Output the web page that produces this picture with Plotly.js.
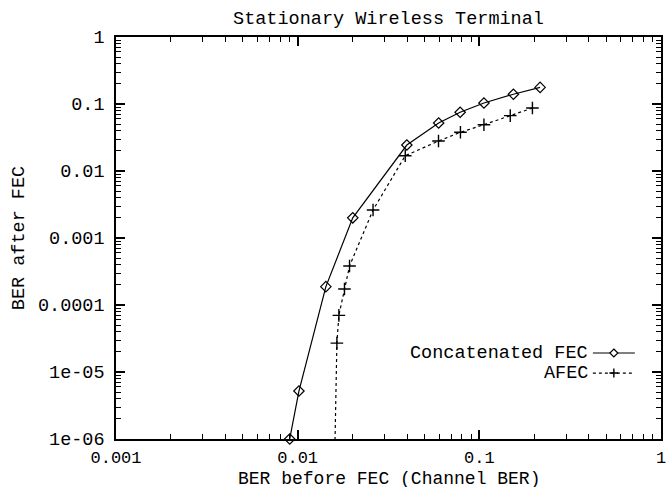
<!DOCTYPE html>
<html>
<head>
<meta charset="utf-8">
<script src="https://cdn.plot.ly/plotly-3.0.1.min.js"></script>
<style>html,body{margin:0;padding:0;background:#fff;}#chart{width:670px;height:487px;}</style>
</head>
<body>
<div id="chart"></div>
<script>
// Data
const concatX = [0.00904, 0.01016, 0.0143, 0.0201, 0.0399, 0.0597, 0.0784, 0.106, 0.154, 0.216];
const concatY = [1e-6, 5.2e-6, 1.88e-4, 2.0e-3, 0.0244, 0.052, 0.0752, 0.1035, 0.140, 0.177];
const afecX = [0.0158, 0.01644, 0.01686, 0.0181, 0.0193, 0.026, 0.0391, 0.0596, 0.0787, 0.106, 0.148, 0.196];
const afecY = [1e-7, 2.7e-5, 7.0e-5, 1.73e-4, 3.82e-4, 2.62e-3, 0.0169, 0.028, 0.0378, 0.0491, 0.067, 0.0871];
const seriesNames = ["Concatenated FEC", "AFEC"];
const xTickVals = [0.001, 0.01, 0.1, 1];
const xTickText = ["0.001", "0.01", "0.1", "1"];
const yTickVals = [1e-6, 1e-5, 1e-4, 1e-3, 0.01, 0.1, 1];
const yTickText = ["1e-06", "1e-05", "0.0001", "0.001", "0.01", "0.1", "1"];

const FONT = "Liberation Mono, Courier New, monospace";
const FS = 18.5;

// minor tick positions (2..9 within each decade)
function minorTicks(majors) {
  const out = [];
  for (let i = 0; i < majors.length - 1; i++) {
    for (let k = 2; k <= 9; k++) out.push(majors[i] * k);
  }
  return out;
}

const traces = [
  {
    x: concatX, y: concatY, name: seriesNames[0], type: "scatter", mode: "lines+markers",
    line: {color: "#000", width: 1.2},
    marker: {symbol: "diamond-open", size: 8, color: "#000", line: {width: 1.2}},
    cliponaxis: false, showlegend: false
  },
  {
    x: afecX, y: afecY, name: seriesNames[1], type: "scatter", mode: "lines+markers",
    line: {color: "#000", width: 1.2, dash: "3px,3px"},
    marker: {symbol: "cross-thin-open", size: 9, color: "#000", line: {width: 1.4, color: "#000"}},
    cliponaxis: true, showlegend: false
  }
];

function axis(vals, text, range) {
  return {
    type: "log", range: range,
    showgrid: false, zeroline: false,
    showline: true, linecolor: "#000", linewidth: 1.5, mirror: "allticks",
    ticks: "inside", ticklen: 9, tickwidth: 1.5, tickcolor: "#000",
    tickmode: "array", tickvals: vals, ticktext: text,
    tickfont: {family: FONT, size: FS, color: "#000"},
    minor: {ticks: "inside", ticklen: 5, tickwidth: 1.2, tickcolor: "#000",
            tickmode: "array", tickvals: minorTicks(vals), showgrid: false}
  };
}

// legend (gnuplot style: text then sample) built from the series names
const lx = 0.8697, ly1 = 0.2139, ly2 = 0.164;
const annotations = [
  {text: seriesNames[0], xref: "paper", yref: "paper", x: lx, y: ly1, xanchor: "right", yanchor: "middle", showarrow: false, font: {family: FONT, size: FS, color: "#000"}},
  {text: seriesNames[1], xref: "paper", yref: "paper", x: lx, y: ly2, xanchor: "right", yanchor: "middle", showarrow: false, font: {family: FONT, size: FS, color: "#000"}},
  {text: "BER before FEC (Channel BER)", xref: "paper", yref: "paper", x: 0.5, y: -0.1, xanchor: "center", yanchor: "middle", showarrow: false, font: {family: FONT, size: 18, color: "#000"}}
];
const sx0 = 0.875, sx1 = 0.952, sxm = (sx0 + sx1) / 2;
const shapes = [
  {type: "line", xref: "paper", yref: "paper", x0: sx0, x1: sx1, y0: ly1, y1: ly1, line: {color: "#000", width: 1.2}},
  {type: "line", xref: "paper", yref: "paper", x0: sx0, x1: sx1, y0: ly2, y1: ly2, line: {color: "#000", width: 1.2, dash: "3px,3px"}},
  {type: "path", xref: "paper", yref: "paper", xsizemode: "pixel", ysizemode: "pixel", xanchor: sxm, yanchor: ly1,
   path: "M0,4 L4,0 L0,-4 L-4,0 Z", fillcolor: "#fff", line: {color: "#000", width: 1.2}},
  {type: "path", xref: "paper", yref: "paper", xsizemode: "pixel", ysizemode: "pixel", xanchor: sxm, yanchor: ly2,
   path: "M-4.5,0 L4.5,0 M0,-4.5 L0,4.5", line: {color: "#000", width: 1.4}}
];

const xa = axis(xTickVals, xTickText, [-3, 0]);
xa.tickfont = {family: FONT, size: 17, color: "#000"};
xa.ticklabelstandoff = 2;
const ya = axis(yTickVals, yTickText, [-6, 0]);
ya.ticklabelstandoff = 6;
ya.title = {text: "BER after FEC", font: {family: FONT, size: FS, color: "#000"}, standoff: 8};

const layout = {
  width: 670, height: 487,
  margin: {l: 116, r: 9, t: 37, b: 48, pad: 0},
  paper_bgcolor: "#fff", plot_bgcolor: "#fff",
  font: {family: FONT, size: FS, color: "#000"},
  title: {text: "Stationary Wireless Terminal", font: {family: FONT, size: FS, color: "#000"},
          xref: "paper", x: 0.5, xanchor: "center", yref: "container", y: 0.963, yanchor: "middle"},
  xaxis: xa,
  yaxis: ya,
  annotations: annotations,
  shapes: shapes,
  showlegend: false
};

Plotly.newPlot("chart", traces, layout, {displayModeBar: false});
</script>
</body>
</html>
